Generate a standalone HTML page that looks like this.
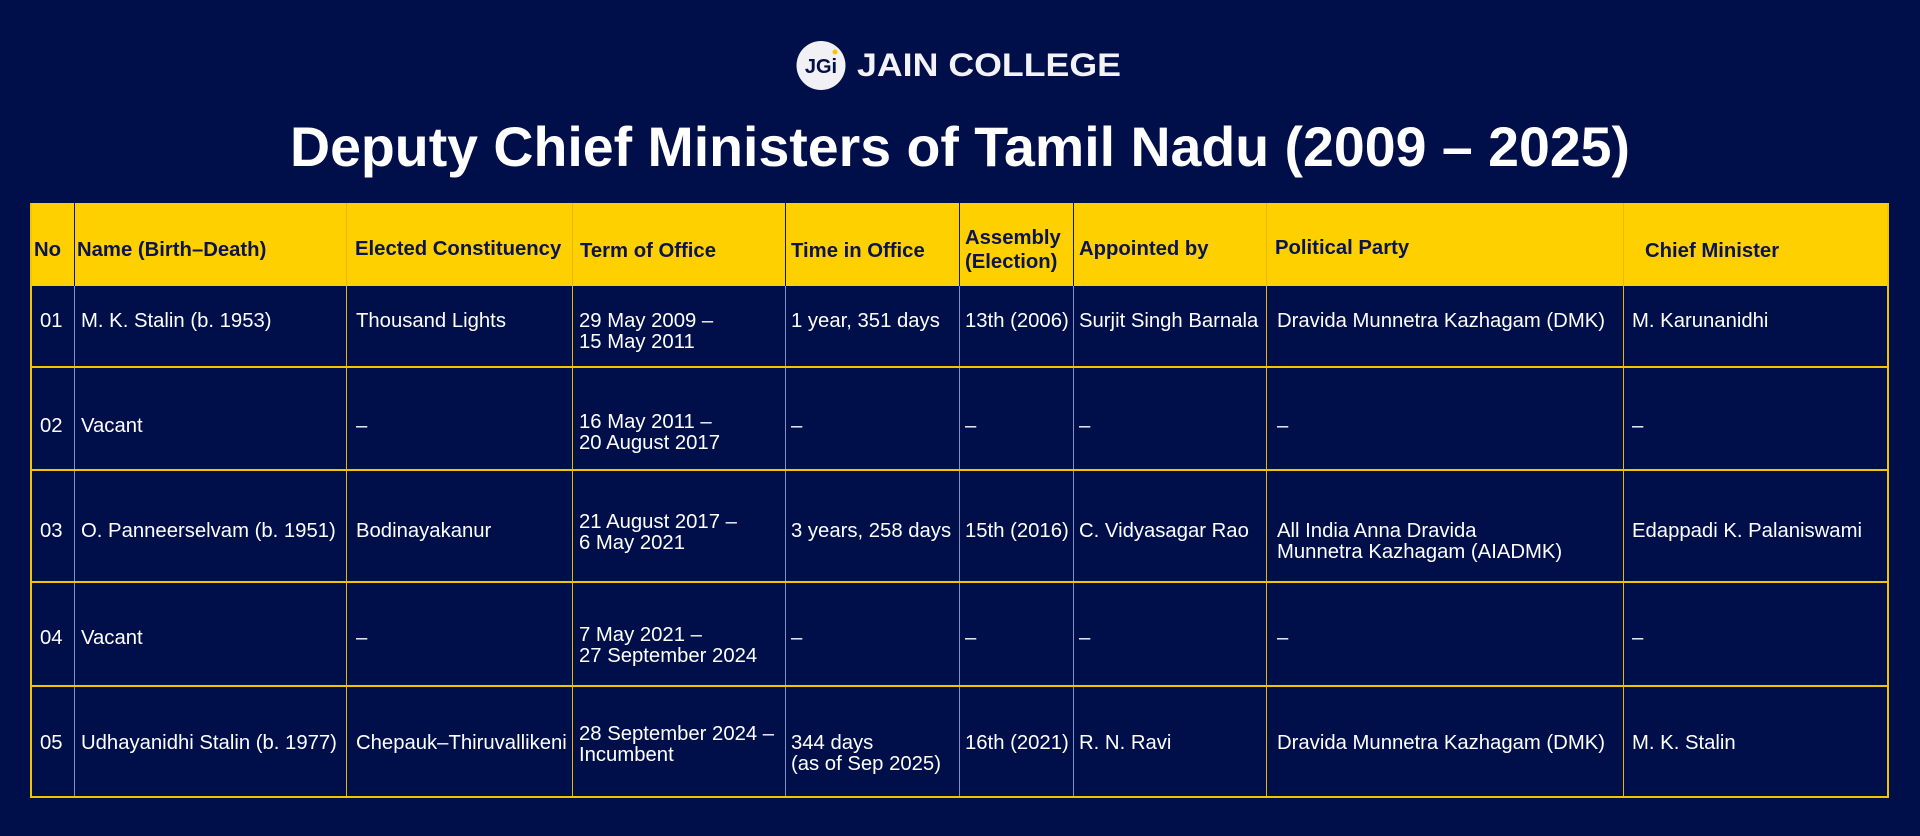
<!DOCTYPE html>
<html><head><meta charset="utf-8">
<style>
html,body{margin:0;padding:0;}
body{width:1920px;height:836px;background:#000f4a;position:relative;overflow:hidden;font-family:"Liberation Sans",Arial,sans-serif;}
.t{position:absolute;color:#fff;font-size:20.3px;line-height:21px;white-space:nowrap;}
.h{position:absolute;color:#0a1450;font-size:20.3px;font-weight:bold;line-height:24px;white-space:nowrap;}
.hl{position:absolute;height:2px;background:#f5c400;}
.vl{position:absolute;width:1px;background:#e8b800;}
</style></head>
<body>
<svg width="1920" height="200" style="position:absolute;left:0;top:0">
  <circle cx="821" cy="65.5" r="24.5" fill="#f0f0f5"/>
  <text x="821" y="73" text-anchor="middle" font-family="Liberation Sans" font-weight="bold" font-size="20" fill="#000f4a">JGi</text>
  <circle cx="835" cy="52" r="2.5" fill="#ffc400"/>
  <text x="857" y="76" font-family="Liberation Sans" font-weight="bold" font-size="32" fill="#f2f2f7" textLength="264" lengthAdjust="spacingAndGlyphs">JAIN COLLEGE</text>
  <text x="290" y="166" font-family="Liberation Sans" font-weight="bold" font-size="56" fill="#fff" textLength="1340" lengthAdjust="spacingAndGlyphs">Deputy Chief Ministers of Tamil Nadu (2009 – 2025)</text>
</svg>
<div style="position:absolute;left:31px;top:203px;width:1856px;height:83px;background:#ffd000"></div>
<div style="position:absolute;left:30px;top:203px;width:1855px;height:593px;border:2px solid #f5c400;border-top:none;box-sizing:content-box"></div>
<div id="grid"></div>
<script>
const cols=[31,74,346,572,785,959,1073,1266,1623,1887];
const rowLines=[367,470,582,686];
const headers=["No","Name (Birth–Death)","Elected Constituency","Term of Office","Time in Office","Assembly\n(Election)","Appointed by","Political Party","Chief Minister"];
const headerX=[34,77,355,580,791,965,1079,1275,1645];
const headerY=[250,250,249,251,251,250,249,248,251];
const textX=[40,81,356,579,791,965,1079,1277,1632];
const rows=[
 ["01","M. K. Stalin (b. 1953)","Thousand Lights","29 May 2009 –\n15 May 2011","1 year, 351 days","13th (2006)","Surjit Singh Barnala","Dravida Munnetra Kazhagam (DMK)","M. Karunanidhi"],
 ["02","Vacant","–","16 May 2011 –\n20 August 2017","–","–","–","–","–"],
 ["03","O. Panneerselvam (b. 1951)","Bodinayakanur","21 August 2017 –\n6 May 2021","3 years, 258 days","15th (2016)","C. Vidyasagar Rao","All India Anna Dravida\nMunnetra Kazhagam (AIADMK)","Edappadi K. Palaniswami"],
 ["04","Vacant","–","7 May 2021 –\n27 September 2024","–","–","–","–","–"],
 ["05","Udhayanidhi Stalin (b. 1977)","Chepauk–Thiruvallikeni","28 September 2024 –\nIncumbent","344 days\n(as of Sep 2025)","16th (2021)","R. N. Ravi","Dravida Munnetra Kazhagam (DMK)","M. K. Stalin"]
];
const rowY=[321,426,531,638,743];
const g=document.getElementById('grid');
for(let i=1;i<cols.length-1;i++){
  const v=document.createElement('div');v.className='vl';
  
  
  v.style.left=cols[i]+'px';v.style.top='203px';v.style.height='593px';
  if(i===1||i>=4&&i<=6){v.style.background='#8090c8';v.style.top='286px';v.style.height='510px';}
  g.appendChild(v);
  if(i===1||i>=4&&i<=6){const v2=document.createElement('div');v2.className='vl';
  
  
  v2.style.background='#0a1450';v2.style.left=cols[i]+'px';v2.style.top='203px';v2.style.height='83px';g.appendChild(v2);}
}
rowLines.forEach(y=>{const l=document.createElement('div');l.className='hl';
  
  
  l.style.left='31px';l.style.width='1856px';l.style.top=(y-1)+'px';g.appendChild(l);});
headers.forEach((h,i)=>{const d=document.createElement('div');d.className='h';
  
  
  const n=h.split('\n').length;d.innerHTML=h.replace('\n','<br>');
  d.style.left=headerX[i]+'px';d.style.top=(headerY[i]-n*12)+'px';g.appendChild(d);});
rows.forEach((r,ri)=>r.forEach((c,ci)=>{const d=document.createElement('div');d.className='t';
  
  
  d.innerHTML=c.replace('\n','<br>');
  let top=rowY[ri]-10;
  if(ri===4&&ci===3)top-=9;
  if(ri===2&&ci===3)top-=9;
  if(ri===1&&ci===3)top-=4;
  if(ri===3&&ci===3)top-=3;
  d.style.left=textX[ci]+'px';d.style.top=top+'px';g.appendChild(d);}));
</script>
</body></html>
